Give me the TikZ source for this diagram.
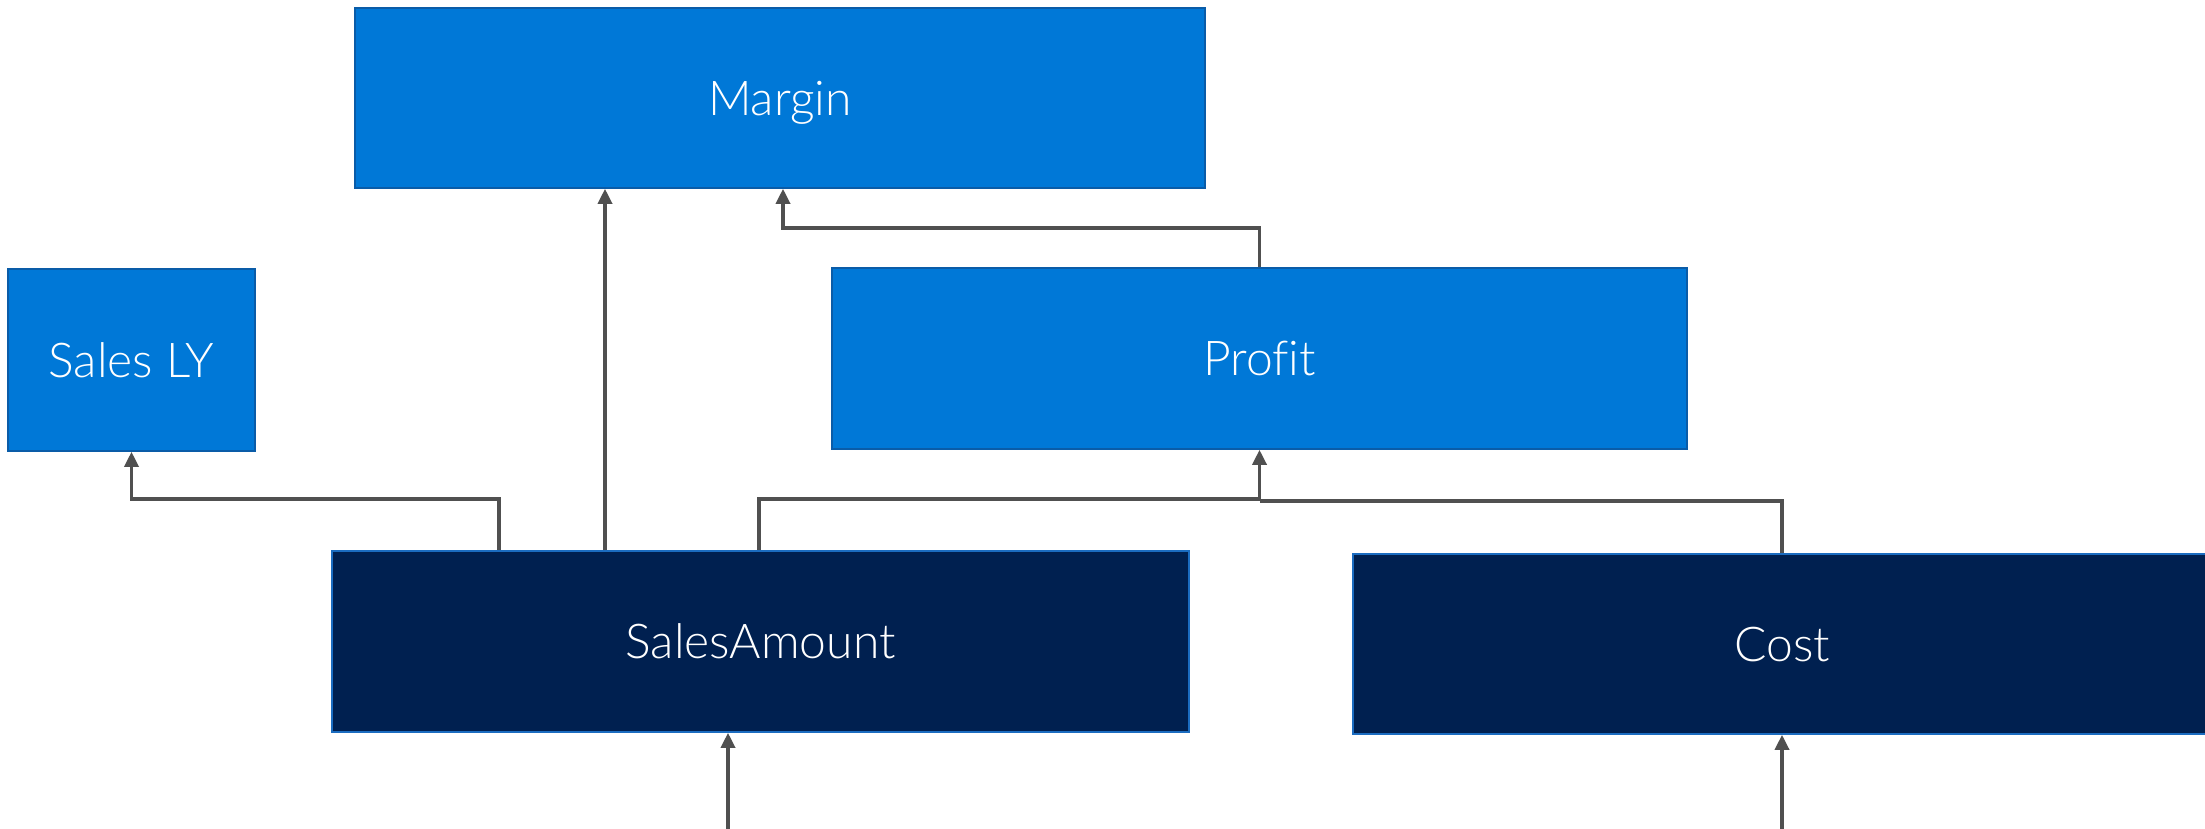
\documentclass[tikz,border=0pt]{standalone}
\usepackage{fontspec}
\setmainfont[Ligatures=NoCommon]{Lato Light}
\usetikzlibrary{arrows.meta}
\definecolor{mblue}{HTML}{0078D7}
\definecolor{mblueedge}{HTML}{0A5CA8}
\definecolor{navy}{HTML}{002050}
\definecolor{navyedge}{HTML}{1B6CC0}
\definecolor{conn}{HTML}{505050}
\tikzset{
  boxtext/.style={text=white, inner sep=0pt, font=\fontsize{24}{28}\selectfont, text height=17.3pt, text depth=0pt},
  lightbox/.style={boxtext, draw=mblueedge, fill=mblue, line width=0.8pt},
  darkbox/.style={boxtext, draw=navyedge, fill=navy, line width=0.8pt},
  wire/.style={draw=conn, line width=1.7pt},
  arr/.style={wire, -{Triangle[length=7.5pt,width=7pt]}}
}
\begin{document}
\begin{tikzpicture}[x=0.5pt,y=-0.5pt]
\useasboundingbox (0,0) rectangle (2205,829);
\node[lightbox, minimum width=425pt, minimum height=90pt] (margin) at (780,98) {Margin};
\node[lightbox, minimum width=123.5pt, minimum height=91pt] (sly) at (131.5,360) {Sales LY};
\node[lightbox, minimum width=427.5pt, minimum height=90.5pt] (profit) at (1259.5,358.5) {Profit};
\node[darkbox, minimum width=428.5pt, minimum height=90.5pt] (sa) at (760.5,641.5) {SalesAmount};
\node[darkbox, minimum width=429pt, minimum height=90pt] (cost) at (1782,644) {Cost};
\coordinate (j1) at (499,499);
\coordinate (m1) at (605,0);
\coordinate (j2) at (783,228);
\coordinate (j3) at (759,499);
\coordinate (j4) at (1260,501);
\coordinate (b1) at (728,829);
\coordinate (b2) at (1782,829);
\draw[arr] (sa.north -| j1) -- (j1) -| (sly.south);
\draw[arr] (sa.north -| m1) -- (margin.south -| m1);
\draw[arr] (profit.north) |- (j2) -- (margin.south -| j2);
\draw[arr] (sa.north -| j3) -- (j3) -| (profit.south);
\draw[wire] (cost.north) |- (j4);
\draw[arr] (b1) -- (sa.south -| b1);
\draw[arr] (b2) -- (cost.south -| b2);
\end{tikzpicture}
\end{document}
